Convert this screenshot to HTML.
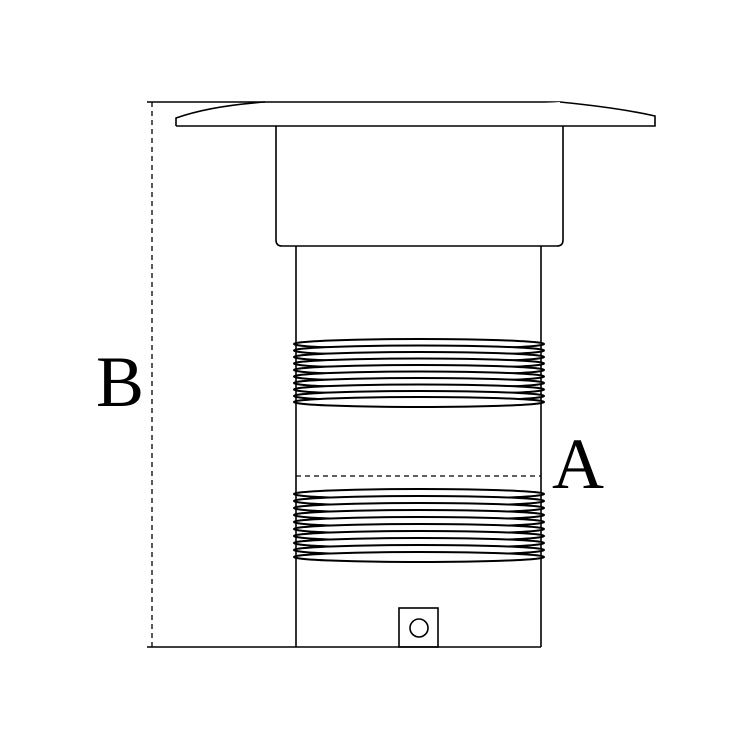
<!DOCTYPE html><html><head><style>body{margin:0;background:#fff}</style></head><body>
<svg width="750" height="750" viewBox="0 0 750 750" xmlns="http://www.w3.org/2000/svg" fill="none" stroke="#000" stroke-width="1.6">
<line x1="147" y1="102" x2="560" y2="102"/>
<path d="M176 126 L176 118 Q210 106 265 102 M560 102 Q620 108 655 116 L655 126 L176 126" fill="#fff"/>
<path d="M276 126 V240 Q276 246 282 246 H557 Q563 246 563 240 V126"/>
<line x1="296" y1="246" x2="296" y2="647"/><line x1="541" y1="246" x2="541" y2="647"/>
<line x1="147" y1="647" x2="541" y2="647"/>
<line x1="152" y1="102" x2="152" y2="647" stroke-dasharray="5,4" stroke-width="1.3"/>
<line x1="296" y1="476" x2="541" y2="476" stroke-dasharray="5,4" stroke-width="1.3"/>
<g fill="#fff" stroke-width="2">
<ellipse cx="419" cy="344" rx="125" ry="5"/><ellipse cx="419" cy="350.5" rx="125" ry="5"/><ellipse cx="419" cy="357" rx="125" ry="5"/><ellipse cx="419" cy="363.5" rx="125" ry="5"/><ellipse cx="419" cy="370" rx="125" ry="5"/><ellipse cx="419" cy="376.5" rx="125" ry="5"/><ellipse cx="419" cy="383" rx="125" ry="5"/><ellipse cx="419" cy="389.5" rx="125" ry="5"/><ellipse cx="419" cy="396" rx="125" ry="5"/><ellipse cx="419" cy="402" rx="125" ry="5"/>
<ellipse cx="419" cy="494" rx="125" ry="5"/><ellipse cx="419" cy="501" rx="125" ry="5"/><ellipse cx="419" cy="508" rx="125" ry="5"/><ellipse cx="419" cy="515" rx="125" ry="5"/><ellipse cx="419" cy="522" rx="125" ry="5"/><ellipse cx="419" cy="529" rx="125" ry="5"/><ellipse cx="419" cy="536" rx="125" ry="5"/><ellipse cx="419" cy="543" rx="125" ry="5"/><ellipse cx="419" cy="550" rx="125" ry="5"/><ellipse cx="419" cy="557" rx="125" ry="5"/>
</g>
<rect x="399" y="608" width="39" height="39"/>
<circle cx="419" cy="628" r="9"/>
<text x="120" y="406" font-family="Liberation Serif, serif" font-size="72" fill="#000" stroke="none" text-anchor="middle">B</text>
<text x="578" y="488" font-family="Liberation Serif, serif" font-size="72" fill="#000" stroke="none" text-anchor="middle">A</text>
</svg></body></html>
